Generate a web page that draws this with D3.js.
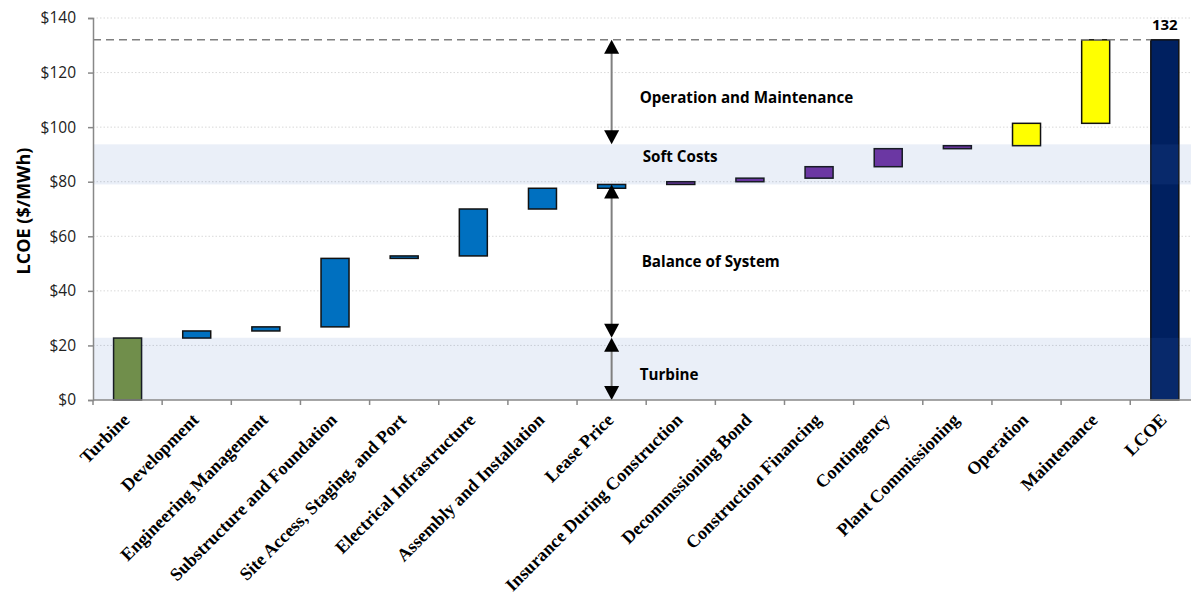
<!DOCTYPE html>
<html>
<head>
<meta charset="utf-8">
<script src="https://cdn.jsdelivr.net/npm/d3@7/dist/d3.min.js"></script>
<style>
  html, body { margin: 0; padding: 0; background: #fff; }
  svg { display: block; }
</style>
</head>
<body>
<svg id="chart" width="1191" height="597"></svg>
<script>
// ---- data ----
const categories = ["Turbine", "Development", "Engineering Management", "Substructure and Foundation",
  "Site Access, Staging, and Port", "Electrical Infrastructure", "Assembly and Installation", "Lease Price",
  "Insurance During Construction", "Decommssioning Bond", "Construction Financing", "Contingency",
  "Plant Commissioning", "Operation", "Maintenance", "LCOE"];
const barStart = [0, 22.7, 25.3, 26.8, 51.9, 52.8, 70.0, 77.6, 79.0, 80.0, 81.3, 85.5, 92.1, 93.2, 101.4, 0];
const barEnd   = [22.7, 25.3, 26.8, 51.9, 52.8, 70.0, 77.6, 79.0, 80.0, 81.3, 85.5, 92.1, 93.2, 101.4, 132.0, 132.0];
const groups   = ["Turbine", "BOS", "BOS", "BOS", "BOS", "BOS", "BOS", "BOS",
  "Soft", "Soft", "Soft", "Soft", "Soft", "OM", "OM", "Total"];
const yTicks = [0, 20, 40, 60, 80, 100, 120, 140];
const totalValue = 132;
const bandRanges = [[0, 22.8], [79.0, 93.7]];
const sectionNames = ["Operation and Maintenance", "Soft Costs", "Balance of System", "Turbine"];
const sectionLabelVal = [110.7, 89.1, 50.6, 9.2];
const arrowRanges = [[132, 93.7], [79.0, 22.8], [22.8, 0]];

// ---- styles ----
const colorMap = { Turbine: "#76923C", BOS: "#0070C0", Soft: "#7030A0", OM: "#FFFF00", Total: "#002060" };
const labelOffsets = [28, 31, 30, 28];

const svg = d3.select("#chart");
const mLeft = 93, mTop = 18, mBottom = 400;
const step = 69.15;
const x = d3.scaleBand().domain(categories).range([mLeft, mLeft + step * categories.length]).padding(0);
const y = d3.scaleLinear().domain([0, 140]).range([mBottom, mTop]);
const barW = 28;

// gridlines
svg.append("g").selectAll("line").data(yTicks.filter(d => d > 0)).join("line")
  .attr("x1", mLeft).attr("x2", 1191)
  .attr("y1", d => y(d)).attr("y2", d => y(d))
  .attr("stroke", "#D9D9D9").attr("stroke-width", 1).attr("stroke-dasharray", "1.5,2");

// bars
svg.append("g").selectAll("rect").data(categories).join("rect")
  .attr("x", d => x(d) + x.bandwidth() / 2 - barW / 2)
  .attr("width", barW)
  .attr("y", (d, i) => y(Math.max(barStart[i], barEnd[i])))
  .attr("height", (d, i) => Math.abs(y(barStart[i]) - y(barEnd[i])))
  .attr("fill", (d, i) => colorMap[groups[i]])
  .attr("stroke", "#111").attr("stroke-width", 1.5);

// bands (semi-transparent, on top)
svg.append("g").selectAll("rect").data(bandRanges).join("rect")
  .attr("x", mLeft + 1).attr("width", 1191 - mLeft)
  .attr("y", d => y(d[1])).attr("height", d => y(d[0]) - y(d[1]))
  .attr("fill", "#4472C4").attr("fill-opacity", 0.115);

// dashed total line
const lcoeX = x("LCOE") + x.bandwidth() / 2 - barW / 2;
svg.append("line")
  .attr("x1", mLeft).attr("x2", lcoeX)
  .attr("y1", y(totalValue)).attr("y2", y(totalValue))
  .attr("stroke", "#7F7F7F").attr("stroke-width", 1.5).attr("stroke-dasharray", "8,5");

// arrows
const ax = x("Lease Price") + x.bandwidth() / 2;
const headH = 14, headW = 7.5;
const ag = svg.append("g");
arrowRanges.forEach(r => {
  const y1 = y(r[0]), y2 = y(r[1]);
  ag.append("line").attr("x1", ax).attr("x2", ax).attr("y1", y1 + headH - 1).attr("y2", y2 - headH + 1)
    .attr("stroke", "#808080").attr("stroke-width", 2);
  ag.append("path").attr("d", `M${ax},${y1} L${ax - headW},${y1 + headH} L${ax + headW},${y1 + headH} Z`).attr("fill", "#000");
  ag.append("path").attr("d", `M${ax},${y2} L${ax - headW},${y2 - headH} L${ax + headW},${y2 - headH} Z`).attr("fill", "#000");
});

// section labels
svg.append("g").selectAll("text").data(sectionNames).join("text")
  .attr("x", (d, i) => ax + labelOffsets[i])
  .attr("y", (d, i) => y(sectionLabelVal[i]))
  .attr("dy", "0.35em")
  .attr("font-family", "Open Sans, sans-serif").attr("font-weight", "bold").attr("font-size", "15.2px")
  .attr("fill", "#000")
  .text(d => d);

// total label
svg.append("text")
  .attr("x", x("LCOE") + x.bandwidth() / 2).attr("y", y(totalValue) - 10)
  .attr("text-anchor", "middle")
  .attr("font-family", "Open Sans, sans-serif").attr("font-weight", "bold").attr("font-size", "15px")
  .text(totalValue);

// y axis
const yAxis = d3.axisLeft(y).tickValues(yTicks).tickFormat(d => "$" + d).tickSize(5).tickPadding(12);
const yg = svg.append("g").attr("transform", `translate(${mLeft},0)`).call(yAxis);
yg.select(".domain").attr("stroke", "#888").attr("stroke-width", 1.5);
yg.selectAll(".tick line").attr("stroke", "#888").attr("stroke-width", 1.5);
yg.selectAll(".tick text").attr("font-family", "Open Sans, sans-serif").attr("font-size", "15.5px").attr("fill", "#222");

// x axis line & ticks at boundaries
svg.append("line").attr("x1", mLeft).attr("x2", 1191).attr("y1", mBottom).attr("y2", mBottom)
  .attr("stroke", "#888").attr("stroke-width", 1.5);
svg.append("g").selectAll("line").data(categories).join("line")
  .attr("x1", d => x(d)).attr("x2", d => x(d))
  .attr("y1", mBottom).attr("y2", mBottom + 5)
  .attr("stroke", "#888").attr("stroke-width", 1.5);

// x labels
svg.append("g").selectAll("text").data(categories).join("text")
  .attr("transform", d => `translate(${x(d) + x.bandwidth() / 2 + 3},${mBottom + 21}) rotate(-45)`)
  .attr("text-anchor", "end")
  .attr("font-family", "Liberation Serif, Times New Roman, serif").attr("font-weight", "bold").attr("font-size", "18px")
  .attr("fill", "#000")
  .text(d => d);

// y axis title
svg.append("text")
  .attr("transform", `translate(24,211) rotate(-90)`)
  .attr("text-anchor", "middle").attr("dy", "0.35em")
  .attr("font-family", "Open Sans, sans-serif").attr("font-weight", "bold").attr("font-size", "18px")
  .text("LCOE ($/MWh)");
</script>
</body>
</html>
